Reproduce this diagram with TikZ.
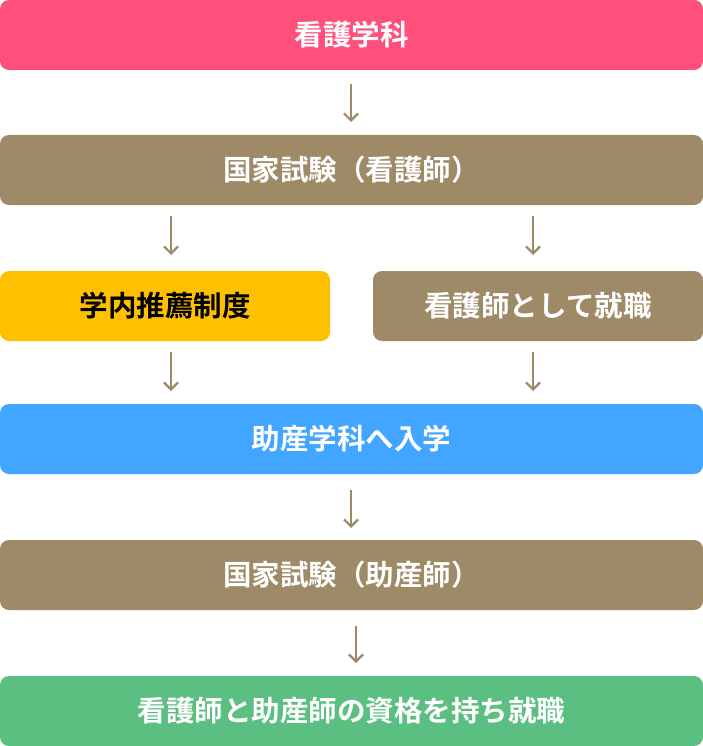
\documentclass[tikz,border=0pt]{standalone}
\usepackage{fontspec}
\setmainfont{Noto Sans CJK JP}[BoldFont={Noto Sans CJK JP Bold}]
\usetikzlibrary{arrows.meta}
\definecolor{pinkc}{HTML}{FF4F7B}
\definecolor{brownc}{HTML}{9E8A66}
\definecolor{yellowc}{HTML}{FFC000}
\definecolor{bluec}{HTML}{42A5FF}
\definecolor{greenc}{HTML}{5CBF82}
\begin{document}
\begin{tikzpicture}[x=1pt,y=-1pt,
  box/.style={rounded corners=9pt,inner sep=0pt,text=white,font=\bfseries\fontsize{28.5}{32}\selectfont},
  arr/.style={draw=brownc,line width=2.2pt,-{Straight Barb[length=7pt,width=14pt,line width=2.2pt]}}]
\useasboundingbox (0,0) rectangle (703,746);
\fill[pinkc,rounded corners=9pt] (0,0) rectangle (703,70);
\node[box] (a) at (351.5,35) {看護学科};
\fill[brownc,rounded corners=9pt] (0,135) rectangle (703,205);
\node[box] (b) at (351.5,170) {国家試験（看護師）};
\fill[yellowc,rounded corners=9pt] (0,271) rectangle (330,341);
\node[box,text=black] (c) at (165,306) {学内推薦制度};
\fill[brownc,rounded corners=9pt] (373,271) rectangle (703,341);
\node[box] (d) at (538,306) {看護師として就職};
\fill[bluec,rounded corners=9pt] (0,404) rectangle (703,474);
\node[box] (e) at (351.5,439) {助産学科へ入学};
\fill[brownc,rounded corners=9pt] (0,540) rectangle (703,610);
\node[box] (f) at (351.5,575) {国家試験（助産師）};
\fill[greenc,rounded corners=9pt] (0,676) rectangle (703,746);
\node[box] (g) at (351.5,711) {看護師と助産師の資格を持ち就職};
\coordinate (a1) at (351,84); \coordinate (a2) at (351,122);
\coordinate (b1) at (171,216); \coordinate (b2) at (171,255);
\coordinate (b3) at (533,216); \coordinate (b4) at (533,255);
\coordinate (c1) at (171,352); \coordinate (c2) at (171,391);
\coordinate (c3) at (533,352); \coordinate (c4) at (533,391);
\coordinate (e1) at (351,490); \coordinate (e2) at (351,528);
\coordinate (f1) at (356,626); \coordinate (f2) at (356,663);
\draw[arr] (a1)--(a2); \draw[arr] (b1)--(b2); \draw[arr] (b3)--(b4);
\draw[arr] (c1)--(c2); \draw[arr] (c3)--(c4); \draw[arr] (e1)--(e2); \draw[arr] (f1)--(f2);
\end{tikzpicture}
\end{document}
